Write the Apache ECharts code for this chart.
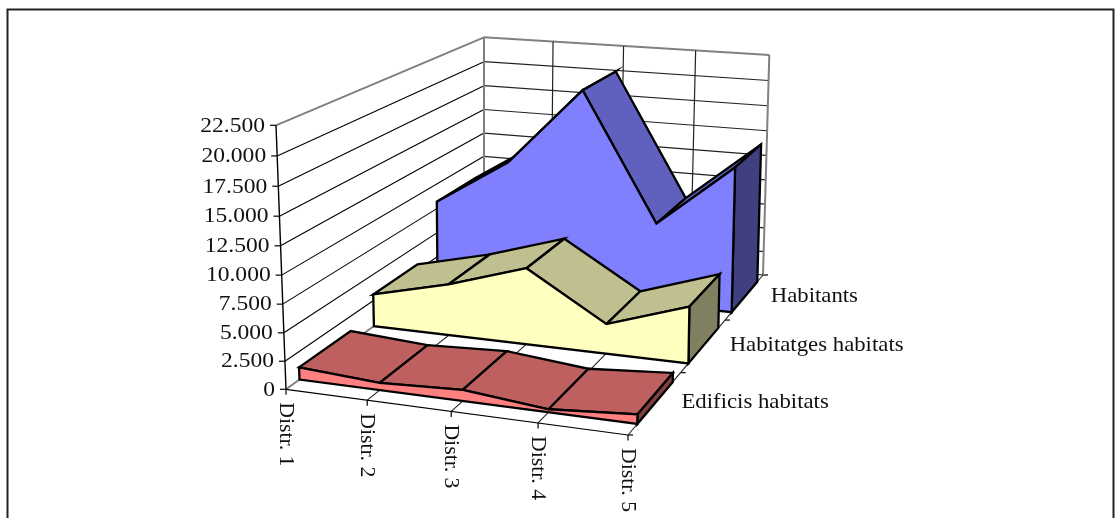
<!DOCTYPE html>
<html>
<head>
<meta charset="utf-8">
<style>html,body{margin:0;padding:0;background:#fff}#c{width:1116px;height:518px}</style>
<script src="https://cdn.jsdelivr.net/npm/echarts@6/dist/echarts.min.js"></script>
</head>
<body>
<div id="c"></div>
<script>
// ---- data ----
const categories = ['Distr. 1', 'Distr. 2', 'Distr. 3', 'Distr. 4', 'Distr. 5'];
const seriesNames = ['Edificis habitats', 'Habitatges habitats', 'Habitants'];
const edificis = [1105, 645, 975, 262, 812];
const habitatges = [3098, 4865, 7156, 2766, 5213];
const habitants = [8212, 12820, 20357, 8050, 14138];
const valueTicks = [0, 2500, 5000, 7500, 10000, 12500, 15000, 17500, 20000, 22500];

// ---- view (oblique 3D box as seen in the picture) ----
const valueMax = 22500;
const floorBox = [[286, 389.3], [628, 435], [484, 247], [763, 275]];   // u0v0,u1v0,u0v1,u1v1
const roofBox = [[276, 125.3], [630.5, 153], [484, 37.3], [769.3, 55]];
const heightPerspective = 0.05;
const bandFront = 0.165, bandBack = 0.84;
const FONT = '"Liberation Serif","Times New Roman",serif';
const INK = '#000', WALL = '#808080';
const palette = [
  { front: '#FF8080', top: '#BF6060', side: '#804040' },
  { front: '#FFFFC0', top: '#BFBF90', side: '#808060' },
  { front: '#8080FF', top: '#6060BF', side: '#404080' }
];

function homography(c) {
  const [p0, p1, p2, p3] = c;
  const dx1 = p1[0] - p3[0], dy1 = p1[1] - p3[1], dx2 = p2[0] - p3[0], dy2 = p2[1] - p3[1];
  const sx = p0[0] - p1[0] + p3[0] - p2[0], sy = p0[1] - p1[1] + p3[1] - p2[1];
  const den = dx1 * dy2 - dy1 * dx2;
  const g = (sx * dy2 - sy * dx2) / den, h = (dx1 * sy - dy1 * sx) / den;
  const a = p1[0] - p0[0] + g * p1[0], b = p2[0] - p0[0] + h * p2[0];
  const d = p1[1] - p0[1] + g * p1[1], e = p2[1] - p0[1] + h * p2[1];
  return (u, v) => {
    const w = 1 + g * u + h * v;
    return [(p0[0] + a * u + b * v) / w, (p0[1] + d * u + e * v) / w];
  };
}
const floorH = homography(floorBox), roofH = homography(roofBox);
function project(u, v, value) {
  const f = floorH(u, v), r = roofH(u, v), s = value / valueMax;
  const t = s / (1 + heightPerspective * (1 - s));
  return [f[0] + (r[0] - f[0]) * t, f[1] + (r[1] - f[1]) * t];
}
const uOf = i => i / (categories.length - 1);
const fmt = v => String(v).replace(/\B(?=(\d{3})+$)/g, '.');

function line(api, pts, color, width, extra) {
  return Object.assign({
    type: 'polyline',
    shape: { points: pts.map(p => api.coord(p)) },
    style: { fill: null, stroke: color, lineWidth: width }
  }, extra || {});
}
function poly(api, pts, fill) {
  return {
    type: 'polygon',
    shape: { points: pts.map(p => api.coord(p)) },
    style: { fill: fill, stroke: '#000', lineWidth: 2.3, lineJoin: 'miter' }
  };
}
function label(api, p, dx, dy, text, align, sx, rot) {
  const c = api.coord(p);
  return {
    type: 'text', x: c[0] + dx, y: c[1] + dy, scaleX: sx, rotation: rot || 0,
    style: { text: text, font: '22px ' + FONT, fill: '#111', align: align, verticalAlign: 'middle' }
  };
}

// value gridlines along left wall and back wall + tick + label
function renderValueTick(params, api) {
  const v = api.value(0);
  const isTop = v === valueMax;
  const a = project(0, 0, v), b = project(0, 1, v), c = project(1, 1, v);
  const kids = [];
  if (v > 0) {
    kids.push(line(api, [a, b], isTop ? WALL : INK, isTop ? 2 : 1.1));
    kids.push(line(api, [b, c], isTop ? WALL : '#222', isTop ? 2 : 1.2));
  }
  kids.push(line(api, [[a[0] - 6, a[1]], a], INK, 1.2));
  kids.push(label(api, a, -11, 0.5, fmt(v), 'right', 1.07));
  return { type: 'group', children: kids };
}
// category lines on back wall and floor + tick + rotated label
function renderCategory(params, api) {
  const u = uOf(api.value(0));
  const kids = [];
  if (u > 0 && u < 1) kids.push(line(api, [project(u, 1, 0), project(u, 1, valueMax)], '#222', 1.2));
  if (u < 1) kids.push(line(api, [project(u, 0, 0), project(u, 1, 0)], u === 0 ? WALL : '#222', u === 0 ? 2 : 1.1));
  const t = project(u, 0, 0);
  kids.push(line(api, [t, [t[0], t[1] + 5.5]], INK, 1.2));
  kids.push(label(api, t, 0, 13, categories[params.dataIndex], 'left', 0.99, -Math.PI / 2));
  return { type: 'group', children: kids };
}
// depth ticks, right floor edge and series name labels
function renderDepth(params, api) {
  const i = api.value(0);
  const kids = [];
  const t = project(1, i / 3, 0);
  kids.push(line(api, [t, [t[0] + 5, t[1]]], INK, 1.2));
  if (i < 3) {
    kids.push(line(api, [t, project(1, (i + 1) / 3, 0)], '#222', 1.1));
    const m = project(1, (i + 0.5) / 3, 0);
    kids.push(label(api, m, 26, 0, seriesNames[i], 'left', 1.035));
  }
  return { type: 'group', children: kids };
}
// frame of the walls
function renderFrame(params, api) {
  return {
    type: 'group', children: [
      line(api, [project(0, 1, 0), project(0, 1, valueMax)], WALL, 2),
      line(api, [project(1, 1, 0), project(1, 1, valueMax)], WALL, 2),
      line(api, [project(0, 1, 0), project(1, 1, 0)], '#222', 1.1),
      line(api, [project(0, 0, 0), project(1, 0, 0)], INK, 1.2),
      line(api, [project(0, 0, 0), project(0, 0, valueMax)], INK, 1.4)
    ]
  };
}
// one ribbon of the 3D area chart
function renderArea(band) {
  return function (params, api) {
    if (params.dataIndex !== 0) return null;
    const n = categories.length;
    const vf = (band + bandFront) / 3, vb = (band + bandBack) / 3;
    const vals = [];
    for (let j = 0; j < n; j++) vals.push(api.value(0, j));
    const col = palette[band];
    const kids = [];
    for (let j = 0; j < n - 1; j++) {
      kids.push(poly(api, [
        project(uOf(j), vf, vals[j]), project(uOf(j + 1), vf, vals[j + 1]),
        project(uOf(j + 1), vb, vals[j + 1]), project(uOf(j), vb, vals[j])
      ], col.top));
    }
    kids.push(poly(api, [
      project(1, vf, vals[n - 1]), project(1, vb, vals[n - 1]), project(1, vb, 0), project(1, vf, 0)
    ], col.side));
    const front = [project(0, vf, 0)];
    for (let j = 0; j < n; j++) front.push(project(uOf(j), vf, vals[j]));
    front.push(project(1, vf, 0));
    kids.push(poly(api, front, col.front));
    return { type: 'group', children: kids };
  };
}

const custom = (name, data, renderItem, z) => ({
  type: 'custom', name, data, renderItem, z, silent: true, clip: false,
  coordinateSystem: 'cartesian2d', animation: false
});

const chart = echarts.init(document.getElementById('c'), null, { renderer: 'canvas' });
chart.setOption({
  animation: false,
  backgroundColor: '#fff',
  grid: { left: 0, right: 0, top: 0, bottom: 0 },
  xAxis: { type: 'value', min: 0, max: 1116, show: false },
  yAxis: { type: 'value', min: 0, max: 518, inverse: true, show: false },
  graphic: [{
    type: 'rect', shape: { x: 7.5, y: 9.5, width: 1106, height: 530 },
    style: { fill: null, stroke: '#222', lineWidth: 2 }, silent: true, z: 0
  }],
  series: [
    custom('Value axis', valueTicks.map(v => [v]), renderValueTick, 2),
    custom('Categories', categories.map((c, i) => [i]), renderCategory, 2),
    custom('Depth axis', [0, 1, 2, 3].map(i => [i]), renderDepth, 2),
    custom('Frame', [[0]], renderFrame, 3),
    custom(seriesNames[2], habitants.map(v => [v]), renderArea(2), 4),
    custom(seriesNames[1], habitatges.map(v => [v]), renderArea(1), 5),
    custom(seriesNames[0], edificis.map(v => [v]), renderArea(0), 6)
  ]
});
</script>
</body>
</html>
